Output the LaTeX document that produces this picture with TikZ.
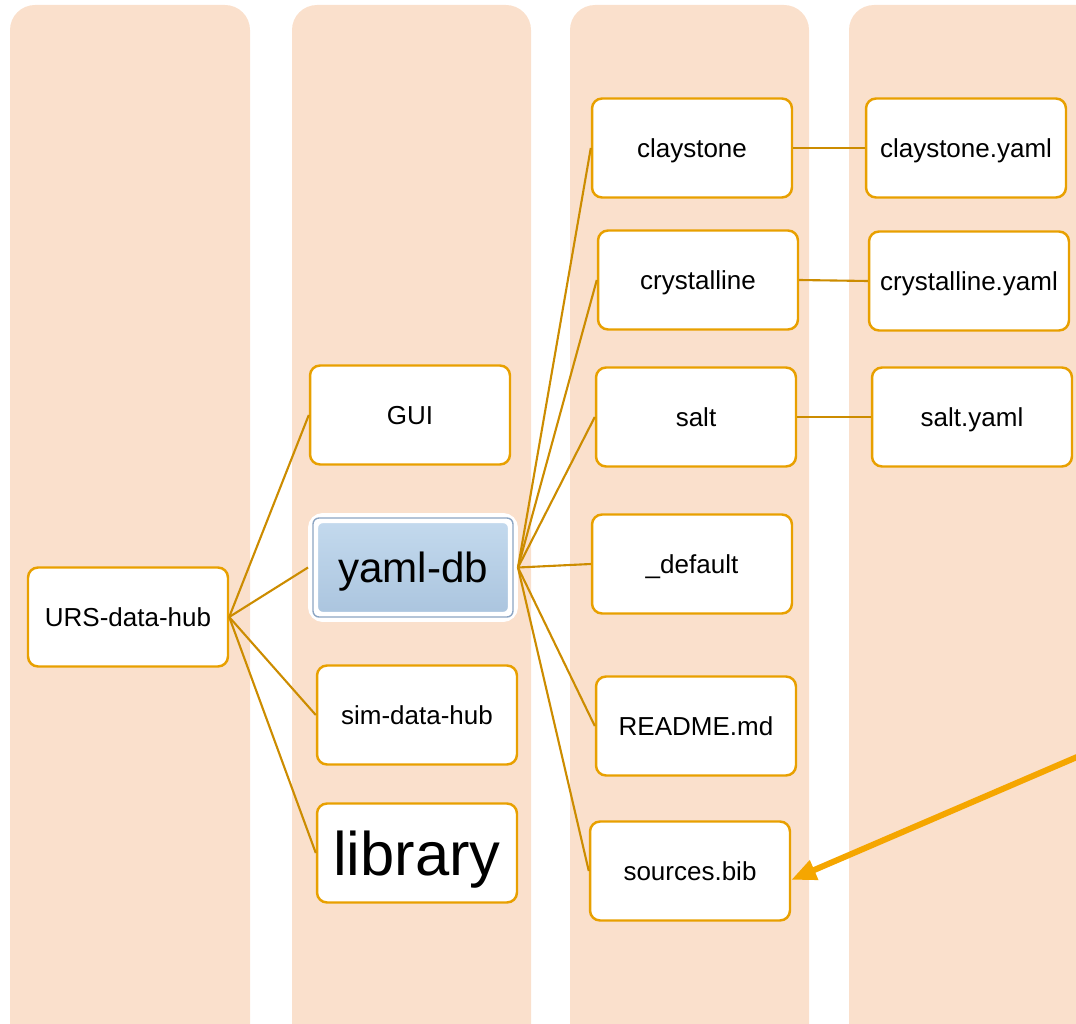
\documentclass[tikz,border=0pt]{standalone}
\usepackage{fontspec}
\setmainfont{Liberation Sans}
\usetikzlibrary{arrows.meta,shadows}

\definecolor{lanefill}{RGB}{250,224,204}
\definecolor{boxline}{RGB}{232,160,0}
\definecolor{linkline}{RGB}{204,140,0}
\definecolor{arrowline}{RGB}{245,166,0}
\definecolor{yamltop}{RGB}{196,218,238}
\definecolor{yamlbot}{RGB}{170,196,222}
\definecolor{yamledge}{RGB}{140,165,195}

\begin{document}
\begin{tikzpicture}[x=0.02cm,y=-0.02cm,
    lane/.style={fill=lanefill,rounded corners=0.5cm},
    box/.style={draw=boxline,fill=white,line width=1.4pt,rounded corners=0.2cm,
        minimum width=4cm,minimum height=1.98cm,inner sep=0pt,text depth=0pt,
        font=\fontsize{14.8}{17}\selectfont},
    yamlbox/.style={draw=white,line width=0.2cm,rounded corners=0.2cm,
        top color=yamltop,bottom color=yamlbot,
        minimum width=4cm,minimum height=1.98cm,inner sep=0pt,text depth=0pt,
        drop shadow={shadow xshift=0.05cm,shadow yshift=-0.08cm,opacity=0.35},
        font=\fontsize{24}{28}\selectfont},
    link/.style={draw=linkline,line width=1.2pt},
    bigarrow/.style={draw=arrowline,line width=0.12cm,
        -{Triangle[length=0.5cm,width=0.4cm]}}]
    \clip (0,0) rectangle (1076,1024);
    % lanes
    \fill[lane] (10,5) rectangle (250,1070);
    \fill[lane] (292,5) rectangle (531,1070);
    \fill[lane] (570,5) rectangle (809,1070);
    \fill[lane] (849,5) rectangle (1110,1070);
    % boxes
    \node[box] at (128,617) (hub) {URS-data-hub};
    \node[box] at (410,415) (gui) {GUI};
    \node[yamlbox] at (413,567.5) (yamldb) {yaml-db};
    \draw[yamledge,line width=0.8pt,rounded corners=0.12cm]
        ([shift={(5,-5)}]yamldb.south west) rectangle ([shift={(-5,5)}]yamldb.north east);
    \node[box] at (417,715) (sim) {sim-data-hub};
    \node[box,font=\fontsize{35}{40}\selectfont] at (417,853) (lib) {library};
    \node[box] at (692,148) (clay) {claystone};
    \node[box] at (698,280) (cryst) {crystalline};
    \node[box] at (696,417) (salt) {salt};
    \node[box] at (692,564) (default) {\_default};
    \node[box] at (696,726) (readme) {README.md};
    \node[box] at (690,871) (bib) {sources.bib};
    \node[box] at (966,148) (clayyaml) {claystone.yaml};
    \node[box] at (969,281) (crystyaml) {crystalline.yaml};
    \node[box] at (972,417) (saltyaml) {salt.yaml};
    \coordinate (arrowfrom) at (1084,754);
    % links
    \path[link]
        (hub.east) edge (gui.west)
        (hub.east) edge (yamldb.west)
        (hub.east) edge (sim.west)
        (hub.east) edge (lib.west)
        (yamldb.east) edge (clay.west)
        (yamldb.east) edge (cryst.west)
        (yamldb.east) edge (salt.west)
        (yamldb.east) edge (default.west)
        (yamldb.east) edge (readme.west)
        (yamldb.east) edge (bib.west)
        (clay.east) edge (clayyaml.west)
        (cryst.east) edge (crystyaml.west)
        (salt.east) edge (saltyaml.west)
        ;
    \draw[bigarrow] (arrowfrom) -- (bib.-5);
\end{tikzpicture}
\end{document}
